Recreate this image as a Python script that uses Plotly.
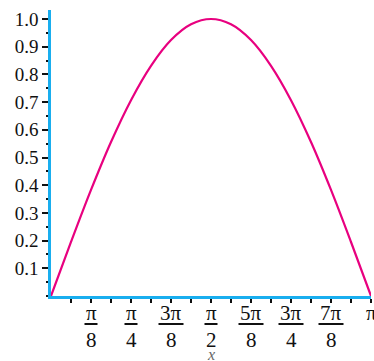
import math
import plotly.graph_objects as go

# curve samples (x in units of pi)
x_pi = [0, 0.0625, 0.125, 0.1875, 0.25, 0.3125, 0.375, 0.4375, 0.5,
        0.5625, 0.625, 0.6875, 0.75, 0.8125, 0.875, 0.9375, 1.0]
y_vals = [0, 0.195, 0.383, 0.556, 0.707, 0.831, 0.924, 0.981, 1.0,
          0.981, 0.924, 0.831, 0.707, 0.556, 0.383, 0.195, 0]

y_ticks = [0.1, 0.2, 0.3, 0.4, 0.5, 0.6, 0.7, 0.8, 0.9, 1.0]
y_ticktext = ["0.1", "0.2", "0.3", "0.4", "0.5", "0.6", "0.7", "0.8", "0.9", "1.0"]

frac_pos = [0.125, 0.25, 0.375, 0.5, 0.625, 0.75, 0.875]
frac_num = ["π", "π", "3π", "π", "5π", "3π", "7π"]
frac_den = ["8", "4", "8", "2", "8", "4", "8"]
end_label = "π"

x_tick_pi = [i / 16 for i in range(1, 17)]

PI = math.pi
LINE_BLUE = "#19aeef"
CURVE = "#e8007f"
FONT = "Liberation Serif"
FS = 21

fig = go.Figure()
fig.add_trace(go.Scatter(
    x=[v * PI for v in x_pi], y=y_vals, mode="lines",
    line=dict(color=CURVE, width=2.2, shape="spline"),
    hoverinfo="skip", showlegend=False))

annotations = []
shapes = []
for p, n, d in zip(frac_pos, frac_num, frac_den):
    annotations.append(dict(x=p * PI, y=0, xref="x", yref="paper", text=n,
                            showarrow=False, yanchor="middle", yshift=-17,
                            font=dict(family=FONT, size=FS, color="#111")))
    annotations.append(dict(x=p * PI, y=0, xref="x", yref="paper", text=d,
                            showarrow=False, yanchor="middle", yshift=-44,
                            font=dict(family=FONT, size=FS, color="#111")))
    w = 13 if len(n) == 1 else 25
    shapes.append(dict(type="line", xref="x", yref="paper",
                       xsizemode="pixel", ysizemode="pixel",
                       xanchor=p * PI, yanchor=0,
                       x0=-w / 2, x1=w / 2, y0=-28, y1=-28,
                       line=dict(color="#111", width=2)))
annotations.append(dict(x=PI, y=0, xref="x", yref="paper", text=end_label,
                        showarrow=False, yanchor="middle", yshift=-17,
                        font=dict(family=FONT, size=FS, color="#111")))
annotations.append(dict(x=PI / 2, y=0, xref="x", yref="paper", text="<i>x</i>",
                        showarrow=False, yanchor="middle", yshift=-58,
                        font=dict(family=FONT, size=16, color="#666")))

fig.update_layout(
    width=374, height=361,
    margin=dict(l=51, r=3, t=10, b=65, autoexpand=False),
    paper_bgcolor="white", plot_bgcolor="white",
    annotations=annotations, shapes=shapes,
    xaxis=dict(range=[0, PI], showgrid=False, zeroline=False,
               showline=True, linecolor=LINE_BLUE, linewidth=2.5,
               ticks="outside", tickvals=[v * PI for v in x_tick_pi],
               ticklen=4, tickwidth=2, tickcolor="#111",
               showticklabels=False),
    yaxis=dict(range=[0, 1.0325], showgrid=False, zeroline=False,
               showline=True, linecolor=LINE_BLUE, linewidth=2.5,
               ticks="outside", tickvals=y_ticks, ticktext=y_ticktext,
               ticklen=6, tickwidth=2, tickcolor="#111",
               tickfont=dict(family=FONT, size=19, color="#111"),
               minor=dict(ticks="outside", dtick=0.05, ticklen=2,
                          tickwidth=2, tickcolor="#111")),
)

fig.write_html("out.html", config={"displayModeBar": False},
               post_script="document.body.style.margin='0';document.body.style.overflow='hidden';")
